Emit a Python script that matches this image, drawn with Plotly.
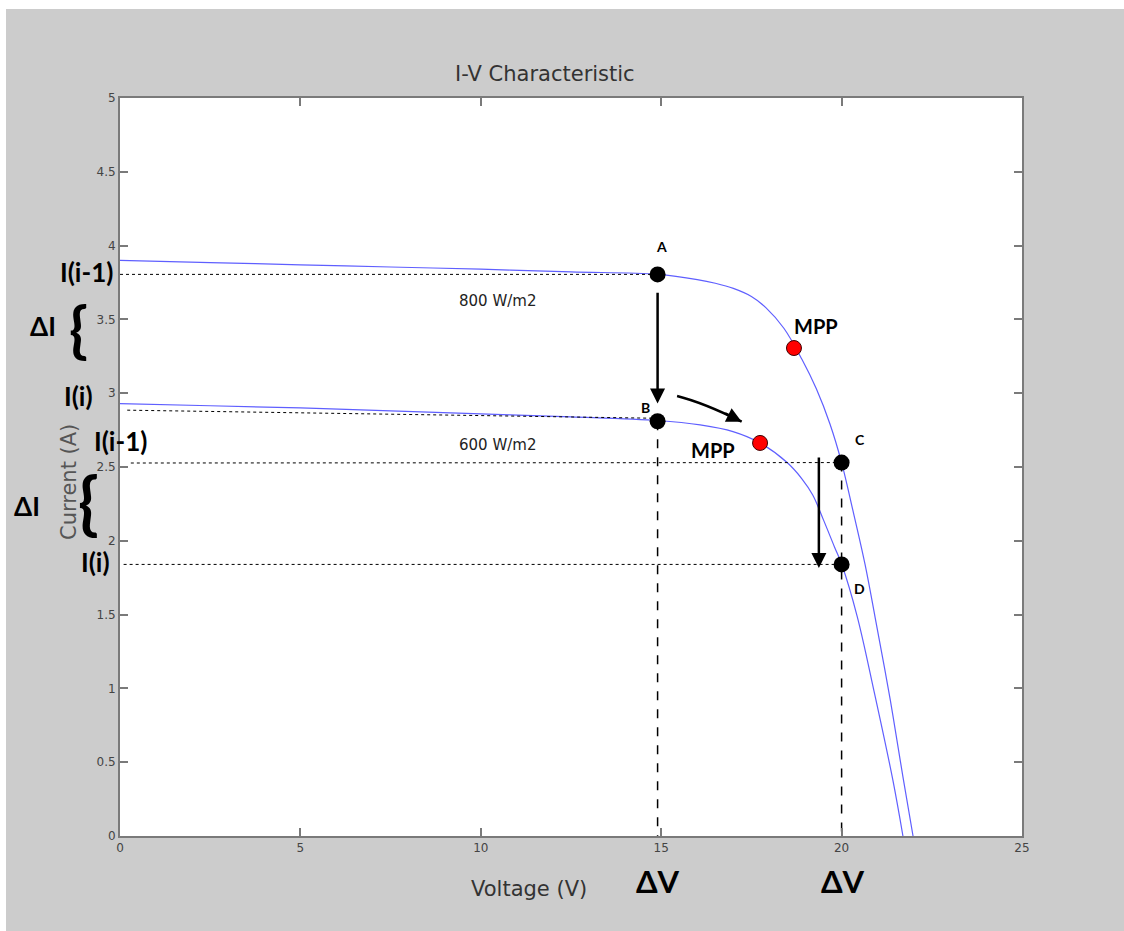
import plotly.graph_objects as go

# ---------------- data ----------------
v_800 = [0, 2.5, 5, 7.5, 10, 12.5, 14.9, 16.0, 16.5, 17.0, 17.5, 17.9, 18.4, 18.9, 19.3, 19.68,
         20.0, 20.3, 20.65, 20.93, 21.35, 21.7, 21.98]
i_800 = [3.90, 3.885, 3.87, 3.855, 3.84, 3.822, 3.805, 3.77, 3.745, 3.71, 3.655, 3.58, 3.44, 3.23,
         3.03, 2.79, 2.53, 2.22, 1.84, 1.48, 0.92, 0.40, 0.0]

v_600 = [0, 2.5, 5, 7.5, 10, 12.5, 14.9, 16.08, 16.99, 17.74, 18.49, 18.9, 19.2, 19.5, 19.8,
         20.01, 20.43, 20.9, 21.42, 21.7]
i_600 = [2.93, 2.915, 2.9, 2.88, 2.86, 2.84, 2.815, 2.785, 2.74, 2.663, 2.53, 2.42, 2.31, 2.14, 1.96,
         1.836, 1.49, 0.98, 0.38, 0.0]

point_labels = ["A", "B", "C", "D"]
point_v = [14.9, 14.9, 20.0, 20.0]
point_i = [3.805, 2.81, 2.53, 1.84]

mpp_v = [18.68, 17.74]
mpp_i = [3.306, 2.663]

irr_labels = ["800 W/m2", "600 W/m2"]
irr_v = [10.45, 10.45]
irr_i = [3.625, 2.65]

# guide (dotted) lines: start voltage and start current (they end at the points)
guide_v0 = [0.0, 0.2, 0.3, 0.1]
guide_i0 = [3.805, 2.885, 2.527, 1.84]

# arrows
arrow1 = {"v": 14.9, "i_tail": 3.69, "i_head": 2.93}
arrow3 = {"v": 19.37, "i_tail": 2.575, "i_head": 1.816}
curved_arrow = {"v": [15.44, 16.19, 17.23], "i": [2.981, 2.934, 2.807]}

x_ticks = [0, 5, 10, 15, 20, 25]
y_ticks = [0, 0.5, 1, 1.5, 2, 2.5, 3, 3.5, 4, 4.5, 5]

# ---------------- layout geometry ----------------
W, H = 1124, 931
L, R, T, B = 120, 102, 98, 95
PW, PH = W - L - R, H - T - B


def pp(px, py):
    """pixel -> paper coordinates"""
    return (px - L) / PW, (H - B - py) / PH


BLUE = "rgb(95,95,255)"
fig = go.Figure()

for vv, ii in ((v_800, i_800), (v_600, i_600)):
    fig.add_trace(go.Scatter(x=vv, y=ii, mode="lines",
                             line=dict(color=BLUE, width=1.2, shape="spline", smoothing=1.0),
                             hoverinfo="skip"))

# dotted horizontal guide lines
for k in range(4):
    fig.add_trace(go.Scatter(x=[guide_v0[k], point_v[k]],
                             y=[guide_i0[k], point_i[k] if k != 1 else point_i[k] + 0.02],
                             mode="lines", line=dict(color="black", width=1, dash="dot"),
                             hoverinfo="skip"))

# dashed vertical lines from B and C to axis
for k in (1, 2):
    fig.add_trace(go.Scatter(x=[point_v[k], point_v[k]], y=[point_i[k], 0],
                             mode="lines", line=dict(color="black", width=1.5, dash="dash"),
                             hoverinfo="skip"))

# operating points
fig.add_trace(go.Scatter(x=point_v, y=point_i, mode="markers",
                         marker=dict(color="black", size=16), hoverinfo="skip"))
fig.add_trace(go.Scatter(x=mpp_v, y=mpp_i, mode="markers",
                         marker=dict(color="#ff0000", size=15, line=dict(color="#400000", width=1)),
                         hoverinfo="skip"))

ann = []
BOLD = dict(family="Lato", weight="bold", color="black")
C = dict(xanchor="center", yanchor="middle", showarrow=False)

# point labels
offs = [(4, 28), (-12, 14), (18, 23), (18, -24)]
for lab, v, i, (dx, dy) in zip(point_labels, point_v, point_i, offs):
    ann.append(dict(C, x=v, y=i, xref="x", yref="y", text=lab,
                    xshift=dx, yshift=dy, font=dict(BOLD, size=14)))

# MPP labels
for v, i, (dx, dy) in zip(mpp_v, mpp_i, [(22, 22), (-47, -7)]):
    ann.append(dict(C, x=v, y=i, xref="x", yref="y", text="MPP",
                    xshift=dx, yshift=dy, font=dict(BOLD, size=20)))

# irradiance labels
for lab, v, i in zip(irr_labels, irr_v, irr_i):
    ann.append(dict(C, x=v, y=i, xref="x", yref="y", text=lab,
                    font=dict(family="DejaVu Sans", size=15, color="#222")))

# straight arrows
for a in (arrow1, arrow3):
    ann.append(dict(x=a["v"], y=a["i_head"], ax=a["v"], ay=a["i_tail"], xref="x", yref="y",
                    axref="x", ayref="y", showarrow=True, arrowhead=2, arrowsize=1.2,
                    arrowwidth=2.5, arrowcolor="black", text=""))
# curved arrow head
ann.append(dict(x=curved_arrow["v"][2], y=curved_arrow["i"][2], ax=-18, ay=-9,
                xref="x", yref="y", showarrow=True, arrowhead=2, arrowsize=1.2,
                arrowwidth=2.5, arrowcolor="black", text=""))

# side labels (pixel positions)
side = [
    ("I(i-1)", 86, 272, 26), ("ΔI", 43, 326, 26), ("I(i)", 78, 396, 26),
    ("I(i-1)", 120, 441, 26), ("ΔI", 27, 506, 26), ("I(i)", 95, 562, 26),
    ("ΔV", 658, 881, 31), ("ΔV", 843, 881, 31),
]
for txt, px, py, sz in side:
    x, y = pp(px, py)
    ann.append(dict(C, x=x, y=y, xref="paper", yref="paper", text=txt,
                    font=dict(BOLD, size=sz)))

# braces
for px, py, sz in [(78, 328, 62), (88, 501, 68)]:
    x, y = pp(px, py)
    ann.append(dict(C, x=x, y=y, xref="paper", yref="paper", text="{",
                    font=dict(family="Lato", weight="bold", size=sz, color="black")))

# title and axis titles
x, y = pp(545, 74)
ann.append(dict(C, x=x, y=y, xref="paper", yref="paper", text="I-V Characteristic",
                font=dict(family="DejaVu Sans", size=21, color="#333")))
x, y = pp(529, 889)
ann.append(dict(C, x=x, y=y, xref="paper", yref="paper", text="Voltage (V)",
                font=dict(family="DejaVu Sans", size=21, color="#333")))
x, y = pp(69, 482)
ann.append(dict(C, x=x, y=y, xref="paper", yref="paper", text="Current (A)",
                textangle=-90, font=dict(family="DejaVu Sans", size=21, color="#555")))

# shapes: curved arrow body + white page strips
cv, ci = curved_arrow["v"], curved_arrow["i"]
shapes = [
    dict(type="path", xref="x", yref="y",
         path=f"M {cv[0]},{ci[0]} Q {cv[1]},{ci[1]} {cv[2]},{ci[2]}",
         line=dict(color="black", width=2.5)),
]
x0, y0 = pp(0, H)
x1, y1 = pp(6, 0)
shapes.append(dict(type="rect", xref="paper", yref="paper", x0=x0, x1=x1, y0=y0, y1=y1,
                   fillcolor="white", line=dict(width=0)))
x0, y0 = pp(0, 9)
x1, y1 = pp(W, 0)
shapes.append(dict(type="rect", xref="paper", yref="paper", x0=x0, x1=x1, y0=y0, y1=y1,
                   fillcolor="white", line=dict(width=0)))

axis_common = dict(showline=True, linecolor="#7a7a7a", linewidth=2, mirror="ticks",
                   ticks="inside", ticklen=8, tickwidth=1.5, tickcolor="#7a7a7a",
                   showgrid=False, zeroline=False,
                   tickfont=dict(family="DejaVu Sans", size=12, color="#444"))

fig.update_layout(
    width=W, height=H, autosize=False,
    margin=dict(l=L, r=R, t=T, b=B, pad=0),
    paper_bgcolor="#cccccc", plot_bgcolor="white",
    showlegend=False,
    xaxis=dict(axis_common, range=[0, 25], tickvals=x_ticks),
    yaxis=dict(axis_common, range=[0, 5], tickvals=y_ticks),
    annotations=ann, shapes=shapes,
)

fig.write_html("out.html")
